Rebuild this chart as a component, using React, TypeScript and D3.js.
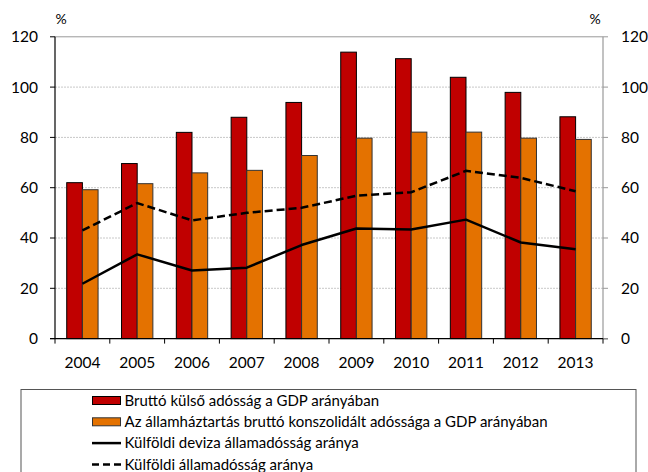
import React from "react";
import * as d3 from "d3";

const years = ["2004", "2005", "2006", "2007", "2008", "2009", "2010", "2011", "2012", "2013"];
const grossExternalDebt = [62, 69.6, 82, 88, 93.9, 113.9, 111.3, 103.9, 97.9, 88.2];
const govConsolidatedDebt = [59.2, 61.6, 65.9, 66.9, 72.8, 79.7, 82.1, 82.1, 79.7, 79.2];
const fxGovDebtShare = [21.8, 33.5, 27.1, 28.2, 37.2, 43.8, 43.4, 47.3, 38.2, 35.5];
const foreignGovDebtShare = [43, 53.9, 47, 50, 52, 56.8, 58.2, 66.7, 63.9, 58.6];
const yTicks = [0, 20, 40, 60, 80, 100, 120];
const legendLabels = [
  "Bruttó külső adósság a GDP arányában",
  "Az államháztartás bruttó konszolidált adóssága a GDP arányában",
  "Külföldi deviza államadósság aránya",
  "Külföldi államadósság aránya",
];

const RED = "#C00000";
const ORANGE = "#E47200";
const FONT = "Lato, 'Open Sans', sans-serif";

export default function App() {
  const left = 55;
  const right = 603;
  const x = d3.scaleBand<string>().domain(years).range([left, right]).padding(0);
  const y = d3.scaleLinear().domain([0, 120]).range([338.6, 36.8]);
  const bw = x.bandwidth() * 0.286;
  const cx = (yr: string) => (x(yr) as number) + x.bandwidth() / 2;

  const line = d3
    .line<number>()
    .x((_, i) => cx(years[i]))
    .y((d) => y(d));

  const boundaries = d3.range(years.length + 1).map((i) => left + i * x.bandwidth());

  return (
    <svg
      width={648}
      height={472}
      style={{ position: "absolute", left: 0, top: 0, background: "#fff" }}
      fontFamily={FONT}
    >
      {/* gridlines */}
      {yTicks
        .filter((t) => t > 0)
        .map((t) => (
          <line
            key={"g" + t}
            x1={left}
            x2={right}
            y1={y(t)}
            y2={y(t)}
            stroke={t === 120 ? "#999" : "#c8c8c8"}
            strokeWidth={1}
            strokeDasharray={t === 120 ? undefined : "2,1"}
          />
        ))}
      {/* bars */}
      {years.map((yr, i) => (
        <g key={yr}>
          <rect
            x={cx(yr) - bw}
            y={y(grossExternalDebt[i])}
            width={bw}
            height={y(0) - y(grossExternalDebt[i])}
            fill={RED}
            stroke="#000"
            strokeWidth={1}
          />
          <rect
            x={cx(yr)}
            y={y(govConsolidatedDebt[i])}
            width={bw}
            height={y(0) - y(govConsolidatedDebt[i])}
            fill={ORANGE}
            stroke="#333"
            strokeWidth={1}
          />
        </g>
      ))}
      {/* lines */}
      <path d={line(fxGovDebtShare) || ""} fill="none" stroke="#000" strokeWidth={2.5} strokeLinejoin="round" />
      <path
        d={line(foreignGovDebtShare) || ""}
        fill="none"
        stroke="#000"
        strokeWidth={2.5}
        strokeDasharray="8,4"
      />
      {/* axes */}
      <line x1={left} x2={left} y1={y(120)} y2={y(0)} stroke="#000" strokeWidth={1.2} />
      <line x1={right} x2={right} y1={y(120)} y2={y(0)} stroke="#999" strokeWidth={1.2} />
      <line x1={left - 5} x2={right + 5} y1={y(0)} y2={y(0)} stroke="#000" strokeWidth={1.2} />
      {yTicks.map((t) => (
        <g key={"t" + t}>
          <line x1={left - 5} x2={left} y1={y(t)} y2={y(t)} stroke="#000" />
          <line x1={right} x2={right + 5} y1={y(t)} y2={y(t)} stroke="#999" />
          <text x={38} y={y(t)} dy="0.35em" textAnchor="end" fontSize={15.5} fill="#000">
            {t}
          </text>
          <text x={621} y={y(t)} dy="0.35em" textAnchor="start" fontSize={15.5} fill="#000">
            {t}
          </text>
        </g>
      ))}
      {boundaries.map((b, i) => (
        <line key={"b" + i} x1={b} x2={b} y1={y(0)} y2={y(0) + 5} stroke="#000" />
      ))}
      {years.map((yr) => (
        <text key={"l" + yr} x={cx(yr)} y={362.7} dy="0.35em" textAnchor="middle" fontSize={15.5} fill="#000">
          {yr}
        </text>
      ))}
      <text x={61} y={19} dy="0.35em" textAnchor="middle" fontSize={14} fill="#000">
        %
      </text>
      <text x={595} y={19} dy="0.35em" textAnchor="middle" fontSize={14} fill="#000">
        %
      </text>
      {/* legend */}
      <rect x={21} y={389.5} width={615} height={100} fill="none" stroke="#555" strokeWidth={1} />
      {legendLabels.map((lab, i) => {
        const ly = 400.5 + i * 21.3;
        return (
          <g key={"lg" + i}>
            {i === 0 && <rect x={92.5} y={ly - 4} width={28} height={8} fill={RED} stroke="#000" />}
            {i === 1 && <rect x={92.5} y={ly - 4} width={28} height={8} fill={ORANGE} stroke="#333" />}
            {i === 2 && <line x1={92} x2={121} y1={ly} y2={ly} stroke="#000" strokeWidth={2.5} />}
            {i === 3 && (
              <line x1={92} x2={121} y1={ly} y2={ly} stroke="#000" strokeWidth={2.5} strokeDasharray="7,4" />
            )}
            <text x={124.5} y={ly} dy="0.35em" fontSize={15} fill="#000">
              {lab}
            </text>
          </g>
        );
      })}
    </svg>
  );
}
